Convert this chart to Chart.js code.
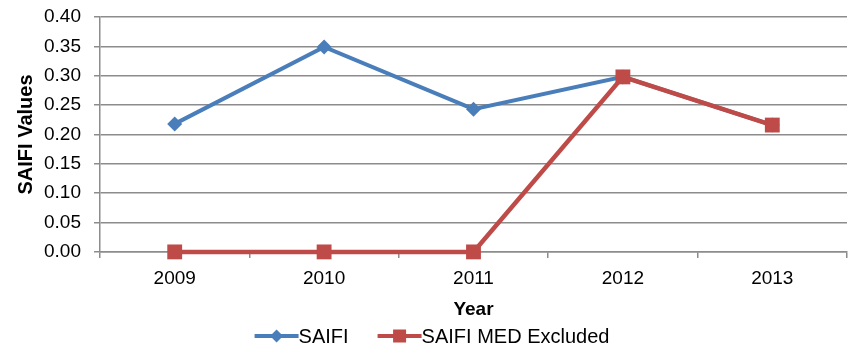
<!DOCTYPE html>
<html>
<head>
<meta charset="utf-8">
<script src="https://cdn.jsdelivr.net/npm/chart.js@4"></script>
<style>
  html, body { margin: 0; padding: 0; background: #fff; }
  #wrap { width: 851px; height: 347px; }
</style>
</head>
<body>
<div id="wrap"><canvas id="grafico"></canvas></div>
<script>
const anos = ['2009', '2010', '2011', '2012', '2013'];
const saifi = [0.218, 0.349, 0.243, 0.298, 0.216];
const saifiMedExcluido = [0, 0, 0, 0.298, 0.216];
const ticksY = [0, 0.05, 0.10, 0.15, 0.20, 0.25, 0.30, 0.35, 0.40];

const azul = '#4A7EBB';
const vermelho = '#BE4B48';
const cinza = '#8C8C8C';
const fonte = '"Liberation Sans", Arial, sans-serif';

/* losango ou quadrado centrado em x,y */
function marcador(g, estilo, x, y, r) {
  g.beginPath();
  if (estilo === 'rectRot') {
    g.moveTo(x, y - r); g.lineTo(x + r, y); g.lineTo(x, y + r); g.lineTo(x - r, y);
  } else {
    g.rect(x - r, y - r, 2 * r, 2 * r);
  }
  g.closePath();
  g.fill();
}

/* legenda no rodapé: linha com marcador e o nome logo depois */
const legendaLinha = {
  id: 'legendaLinha',
  afterDraw(chart) {
    const g = chart.ctx;
    const ds = chart.data.datasets;
    const larguraLinha = 44;
    const espaco = 29;
    g.save();
    g.font = '20px ' + fonte;
    g.textBaseline = 'middle';
    g.textAlign = 'left';
    const larguras = ds.map(d => larguraLinha + g.measureText(d.label).width);
    const total = larguras.reduce((a, b) => a + b, 0) + espaco * (ds.length - 1);
    let x = chart.width / 2 + 6.5 - total / 2;
    const y = chart.height - 11;
    ds.forEach((d, i) => {
      g.strokeStyle = d.borderColor;
      g.fillStyle = d.borderColor;
      g.lineWidth = 4;
      g.beginPath();
      g.moveTo(x, y); g.lineTo(x + larguraLinha, y);
      g.stroke();
      marcador(g, d.pointStyle, x + larguraLinha / 2, y, 6.5);
      g.fillStyle = '#000';
      g.fillText(d.label, x + larguraLinha, y + 1);
      x += larguras[i] + espaco;
    });
    g.restore();
  }
};

const ctx = document.getElementById('grafico');

new Chart(ctx, {
  type: 'line',
  data: {
    labels: anos,
    datasets: [{
      label: 'SAIFI',
      data: saifi,
      borderColor: azul,
      backgroundColor: azul,
      borderWidth: 4,
      pointStyle: 'rectRot',
      pointRadius: 7.5,
      pointBorderWidth: 0,
      tension: 0,
      clip: false,
      order: 1
    }, {
      label: 'SAIFI MED Excluded',
      data: saifiMedExcluido,
      borderColor: vermelho,
      backgroundColor: vermelho,
      borderWidth: 4.5,
      pointStyle: 'rect',
      pointRadius: 10.5,
      pointBorderWidth: 0,
      tension: 0,
      clip: false,
      order: 0
    }]
  },
  options: {
    responsive: true,
    maintainAspectRatio: false,
    animation: false,
    layout: { autoPadding: false, padding: { left: 14.6, right: 4, top: 17, bottom: 25.5 } },
    plugins: {
      legend: { display: false },
      tooltip: { enabled: false }
    },
    scales: {
      x: {
        offset: true,
        grid: {
          offset: true,
          drawOnChartArea: false,
          drawTicks: true,
          tickLength: 6,
          color: cinza,
          lineWidth: 1.5
        },
        border: { color: cinza, width: 1.5 },
        ticks: { color: '#000', font: { family: fonte, size: 19 }, padding: 9 },
        title: {
          display: true,
          text: 'Year',
          color: '#000',
          font: { family: fonte, size: 19, weight: 'bold' },
          padding: { top: 0, bottom: 0 }
        },
        afterFit: (eixo) => { eixo.paddingLeft = 0; eixo.paddingRight = 0; }
      },
      y: {
        min: 0,
        max: 0.40,
        afterBuildTicks: (eixo) => { eixo.ticks = ticksY.map(v => ({ value: v })); },
        grid: {
          color: cinza,
          lineWidth: 1.5,
          tickLength: 6
        },
        border: { color: cinza, width: 1.5 },
        ticks: {
          color: '#000',
          font: { family: fonte, size: 19 },
          padding: 13,
          callback: (v) => Number(v).toFixed(2)
        },
        title: {
          display: true,
          text: 'SAIFI Values',
          color: '#000',
          font: { family: fonte, size: 20, weight: 'bold' },
          padding: { top: 0, bottom: 2 }
        },
        afterFit: (eixo) => {
          eixo.width = 85.4;
          eixo.paddingTop = 0;
          eixo.paddingBottom = 0;
        }
      }
    }
  },
  plugins: [legendaLinha]
});
</script>
</body>
</html>
